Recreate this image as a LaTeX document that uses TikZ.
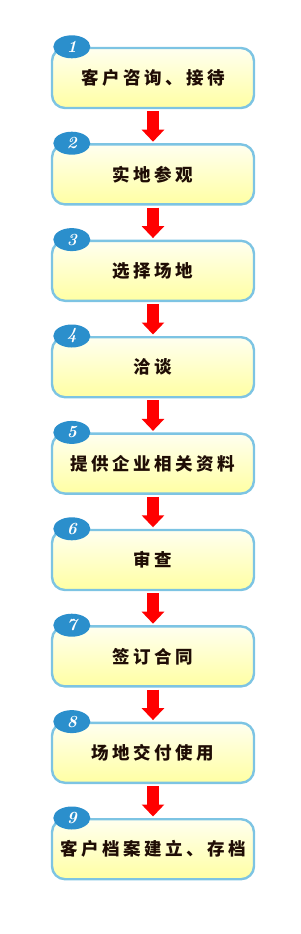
\documentclass[tikz,border=0pt]{standalone}
\usepackage{fontspec}
\usetikzlibrary{arrows.meta, positioning, calc, shapes.geometric}
\newfontfamily\cjk[LetterSpace=20]{Noto Sans CJK SC}
\definecolor{EdgeBlue}{rgb}{0.49, 0.77, 0.89}
\definecolor{BadgeBlue}{rgb}{0.17, 0.56, 0.80}
\definecolor{PaleYellow}{rgb}{1.0, 1.0, 0.94}
\definecolor{SoftYellow}{rgb}{1.0, 1.0, 0.64}
\definecolor{ArrowRed}{rgb}{1.0, 0.0, 0.0}
\definecolor{InkBrown}{rgb}{0.12, 0.05, 0.02}

\begin{document}
\begin{tikzpicture}[
    x=1pt, y=-1pt,
    stepbox/.style={draw=EdgeBlue, line width=2.4pt, rounded corners=13pt,
        top color=PaleYellow, bottom color=SoftYellow, text=InkBrown,
        minimum width=202pt, minimum height=60pt, font=\cjk\bfseries\fontsize{17.5}{19}\selectfont},
    badge/.style={ellipse, fill=BadgeBlue, text=white, inner sep=0pt,
        minimum width=37pt, minimum height=23pt,
        font=\bfseries\itshape\fontsize{17}{17}\selectfont},
    flow/.style={-{Triangle[width=22pt, length=12pt]}, line width=12pt, ArrowRed,
        shorten <=2pt, shorten >=1.5pt},
]
\useasboundingbox (0,0) rectangle (300,934);

% the nine boxes
\node[stepbox] (b1) at (153,78) {客户咨询、接待};
\node[stepbox, below=34pt of b1] (b2) {实地参观};
\node[stepbox, below=34pt of b2] (b3) {选择场地};
\node[stepbox, below=34pt of b3] (b4) {洽谈};
\node[stepbox, below=34pt of b4] (b5) {提供企业相关资料};
\node[stepbox, below=34pt of b5] (b6) {审查};
\node[stepbox, below=34pt of b6] (b7) {签订合同};
\node[stepbox, below=34pt of b7] (b8) {场地交付使用};
\node[stepbox, below=34pt of b8] (b9) {客户档案建立、存档};

% numbers
\node[badge] (n1) at ($(b1.north west)+(21,0)$) {1};
\node[badge] (n2) at ($(b2.north west)+(21,0)$) {2};
\node[badge] (n3) at ($(b3.north west)+(21,0)$) {3};
\node[badge] (n4) at ($(b4.north west)+(21,0)$) {4};
\node[badge] (n5) at ($(b5.north west)+(21,0)$) {5};
\node[badge] (n6) at ($(b6.north west)+(21,0)$) {6};
\node[badge] (n7) at ($(b7.north west)+(21,0)$) {7};
\node[badge] (n8) at ($(b8.north west)+(21,0)$) {8};
\node[badge] (n9) at ($(b9.north west)+(21,0)$) {9};

% arrows
\draw[flow] (b1) -- (b2);
\draw[flow] (b2) -- (b3);
\draw[flow] (b3) -- (b4);
\draw[flow] (b4) -- (b5);
\draw[flow] (b5) -- (b6);
\draw[flow] (b6) -- (b7);
\draw[flow] (b7) -- (b8);
\draw[flow] (b8) -- (b9);

\end{tikzpicture}
\end{document}
